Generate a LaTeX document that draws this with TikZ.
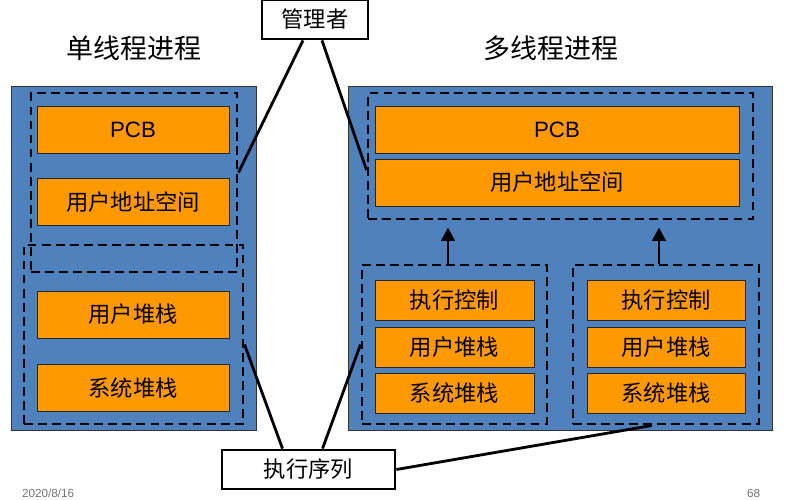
\documentclass[tikz,border=0pt]{standalone}
\usepackage{fontspec}
\setmainfont{Liberation Sans}
\newfontfamily\cjk{Noto Sans CJK SC}
\usetikzlibrary{arrows.meta,calc}
\definecolor{procblue}{HTML}{4F81BD}
\definecolor{boxorange}{HTML}{FF9900}
\tikzset{
  procbg/.style={fill=procblue,draw=black!80,line width=0.6pt,inner sep=0pt},
  dashbox/.style={draw,line width=2.5pt,dash pattern=on 7.5pt off 4.5pt,inner sep=0pt},
  obox/.style={fill=boxorange,draw=black!85,line width=0.6pt,inner sep=0pt,
    font=\cjk\fontsize{19}{22}\selectfont},
  tagbox/.style={draw,fill=white,line width=2.4pt,inner sep=0pt,
    font=\cjk\fontsize{19}{22}\selectfont},
  conn/.style={line width=2.4pt},
  up/.style={line width=2.4pt,-{Triangle[length=4mm,width=4mm]}}
}
\begin{document}
\begin{tikzpicture}[x=0.03cm,y=-0.03cm]
\useasboundingbox (0,0) rectangle (787,499);
% titles
\node[font=\cjk\fontsize{23}{26}\selectfont] (stitle) at (134,48) {单线程进程};
\node[font=\cjk\fontsize{23}{26}\selectfont] (mtitle) at (551,48) {多线程进程};
% single threaded process
\node[procbg,minimum width=7.35cm,minimum height=10.32cm] (sproc) at (133.5,258) {};
\node[dashbox,minimum width=6.18cm,minimum height=5.37cm] (stop) at (134,182.5) {};
\node[dashbox,minimum width=6.57cm,minimum height=5.37cm] (sbot) at (133.5,334.5) {};
\node[obox,minimum width=5.76cm,minimum height=1.41cm,font=\fontsize{19}{22}\selectfont] (spcb) at (133,129.5) {PCB};
\node[obox,minimum width=5.76cm,minimum height=1.41cm] (saddr) at (133,202) {用户地址空间};
\node[obox,minimum width=5.76cm,minimum height=1.41cm] (sustk) at (133,314.5) {用户堆栈};
\node[obox,minimum width=5.76cm,minimum height=1.41cm] (skstk) at (133,387.5) {系统堆栈};
% multi threaded process
\node[procbg,minimum width=12.72cm,minimum height=10.32cm] (mproc) at (560,258) {};
\node[dashbox,minimum width=11.55cm,minimum height=3.78cm] (mtop) at (560.5,156) {};
\node[obox,minimum width=10.92cm,minimum height=1.41cm,font=\fontsize{19}{22}\selectfont] (mpcb) at (557,129.5) {PCB};
\node[obox,minimum width=10.92cm,minimum height=1.41cm] (maddr) at (557,182.5) {用户地址空间};
\node[dashbox,minimum width=5.55cm,minimum height=4.77cm] (ta) at (454.5,344.5) {};
\node[dashbox,minimum width=5.58cm,minimum height=4.77cm] (tb) at (666,344.5) {};
\foreach \t/\x/\w in {ta/454.5/4.77, tb/666/4.74} {
  \node[obox,minimum width=\w cm,minimum height=1.2cm] (\t ctl) at (\x,300) {执行控制};
  \node[obox,minimum width=\w cm,minimum height=1.2cm] (\t ustk) at (\x,347) {用户堆栈};
  \node[obox,minimum width=\w cm,minimum height=1.2cm] (\t kstk) at (\x,393) {系统堆栈};
}
\draw[up] ($(ta.north)+(-6.5,0)$) -- ($(ta.north |- mtop.south)+(-6.5,7)$);
\draw[up] ($(tb.north)+(-7,0)$) -- ($(tb.north |- mtop.south)+(-7,7)$);
% labels
\node[tagbox,minimum width=3.18cm,minimum height=1.17cm] (mgr) at (315,19.5) {管理者};
\node[tagbox,minimum width=5.19cm,minimum height=1.17cm] (seq) at (308.5,469.5) {执行序列};
\draw[conn] ($(mgr.south)+(-12,0)$) -- ($(stop.east)+(0,-10)$);
\draw[conn] ($(mgr.south)+(7,0)$) -- ($(mtop.west)+(0,14)$);
\draw[conn] ($(seq.north)+(-26,0)$) -- ($(sbot.east)+(0,10)$);
\draw[conn] ($(seq.north)+(14,0)$) -- (ta.west);
\draw[conn] (seq.east) -- ($(tb.south)+(-14,0)$);
% footer
\node[text=black!55,font=\fontsize{10}{12}\selectfont,anchor=base west] (date) at (18,497) {2020/8/16};
\node[text=black!55,font=\fontsize{10}{12}\selectfont,anchor=base west] (page) at (743,497) {68};
\end{tikzpicture}
\end{document}
